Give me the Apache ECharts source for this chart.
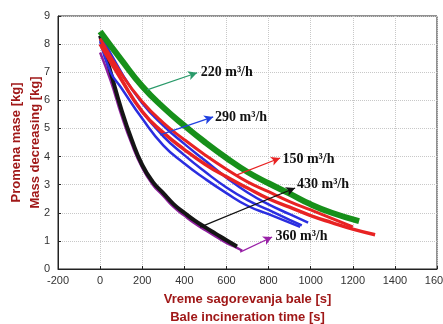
<!DOCTYPE html>
<html>
<head>
<meta charset="utf-8">
<script src="https://cdn.jsdelivr.net/npm/echarts@6/dist/echarts.min.js"></script>
<style>html,body{margin:0;padding:0;background:#fff;}#c{width:443px;height:324px;}</style>
</head>
<body>
<div id="c"></div>
<script>
// ---- data (time [s], mass [kg]) ----
const xTicks = [-200, 0, 200, 400, 600, 800, 1000, 1200, 1400, 1600];
const yTicks = [0, 1, 2, 3, 4, 5, 6, 7, 8, 9];

const green220 = [[0,8.45],[100,7.45],[200,6.5],[300,5.75],[400,5.1],[500,4.5],[600,3.95],[700,3.45],[800,3.05],[900,2.68],[1000,2.3],[1100,2.0],[1230,1.7]];
const red150a = [[0,8.2],[100,6.95],[200,5.95],[300,5.2],[400,4.6],[500,4.05],[600,3.55],[700,3.1],[800,2.75],[900,2.4],[1000,2.1],[1100,1.8],[1200,1.5]];
const red150b = [[0,8.0],[100,6.75],[200,5.6],[300,4.85],[400,4.25],[500,3.72],[600,3.28],[700,2.88],[800,2.5],[900,2.2],[1000,1.9],[1100,1.65],[1200,1.42],[1306,1.22]];
const blue290a = [[0,8.4],[100,7.0],[200,5.9],[300,5.1],[400,4.45],[500,3.85],[600,3.25],[700,2.72],[800,2.3],[900,1.95],[988,1.65]];
const blue290b = [[0,8.2],[100,6.75],[200,5.6],[300,4.72],[400,4.05],[500,3.45],[600,2.9],[700,2.45],[800,2.1],[900,1.75],[958,1.55]];
const blue290c = [[0,8.1],[50,7.0],[100,6.45],[200,5.35],[300,4.4],[400,3.75],[500,3.2],[600,2.7],[700,2.25],[800,1.95],[900,1.65],[950,1.5]];
const black430 = [[0,8.3],[50,7.0],[100,5.7],[150,4.6],[200,3.7],[250,3.1],[300,2.7],[350,2.3],[400,2.0],[450,1.72],[500,1.48],[550,1.25],[600,1.02],[650,0.8]];
const purple360 = [[0,7.7],[50,6.7],[100,5.5],[150,4.45],[200,3.6],[250,3.0],[300,2.6],[350,2.2],[400,1.9],[450,1.62],[500,1.38],[550,1.15],[600,0.93],[650,0.75],[675,0.65]];

// annotation labels: [text, arrow tail, arrow head, text anchor] in data units
const labels220 = ['220 m³/h', [223,6.37], [461,6.98], [478,6.98]];
const labels290 = ['290 m³/h', [285,4.77], [537,5.41], [546,5.41]];
const labels150 = ['150 m³/h', [650,3.35], [855,3.95], [866,3.9]];
const labels430 = ['430 m³/h', [475,1.49], [926,2.88], [935,3.02]];
const labels360 = ['360 m³/h', [665,0.6], [817,1.14], [833,1.17]];

const chart = echarts.init(document.getElementById('c'), null, {renderer:'canvas'});

function curve(name, data, color, width){
  return {name, type:'line', data, smooth:0.5, showSymbol:false, symbol:'none',
    lineStyle:{color, width}, itemStyle:{color}, z:2, animation:false};
}
function ann(lab, color){
  return {type:'line', data:[], silent:true, animation:false,
    markLine:{silent:true, animation:false, symbol:['none','arrow'], symbolSize:[7,9],
      lineStyle:{color, width:1.2, type:'solid'}, label:{show:false},
      data:[[{coord:lab[1]},{coord:lab[2]}]]},
    markPoint:{silent:true, animation:false, symbol:'circle', symbolSize:0,
      data:[{coord:lab[3], value:lab[0]}],
      label:{show:true, position:'right', distance:0, formatter:lab[0], color:'#111',
        fontFamily:'Liberation Serif', fontWeight:'bold', fontSize:14}}};
}

chart.setOption({
  animation:false,
  backgroundColor:'#fff',
  grid:{left:58, right:6, top:16, bottom:55, containLabel:false, outerBoundsMode:'none',
    show:true, borderColor:'#222', borderWidth:1},
  xAxis:{type:'value', min:xTicks[0], max:xTicks[xTicks.length-1], interval:200,
    axisLine:{show:true, onZero:false, lineStyle:{color:'#222'}}, axisTick:{show:true, inside:true, length:3, lineStyle:{color:'#222'}},
    axisLabel:{color:'#333', fontSize:11, fontFamily:'Liberation Sans', margin:6, formatter:v=>String(v)},
    splitLine:{show:true, lineStyle:{color:'#c8c8c8', type:'dotted'}},
    name:'Vreme sagorevanja bale [s]\nBale incineration time [s]', nameLocation:'middle', nameGap:21,
    nameTextStyle:{color:'#a01818', fontWeight:'bold', fontSize:13, fontFamily:'Liberation Sans', lineHeight:18}},
  yAxis:{type:'value', min:yTicks[0], max:yTicks[yTicks.length-1], interval:1,
    axisLine:{show:true, onZero:false, lineStyle:{color:'#222'}}, axisTick:{show:true, inside:true, length:3, lineStyle:{color:'#222'}},
    axisLabel:{color:'#333', fontSize:11, fontFamily:'Liberation Sans', margin:8, formatter:v=>String(v)},
    splitLine:{show:true, lineStyle:{color:'#c8c8c8', type:'dotted'}},
    name:'Promena mase [kg]\nMass decreasing [kg]', nameLocation:'middle', nameGap:13, nameRotate:90, nameMoveOverlap:false,
    nameTextStyle:{color:'#a01818', fontWeight:'bold', fontSize:13, fontFamily:'Liberation Sans', lineHeight:19}},
  series:[
    curve('360', purple360, '#8e1f9e', 2.5),
    curve('430', black430, '#151515', 4),
    curve('290a', blue290a, '#2b2ee0', 2.5),
    curve('290b', blue290b, '#2b2ee0', 2.5),
    curve('290c', blue290c, '#2b2ee0', 2.5),
    curve('150b', red150b, '#e82323', 3.5),
    curve('150a', red150a, '#e82323', 3),
    curve('220', green220, '#17901a', 6),
    ann(labels220, '#2a9a6a'),
    ann(labels290, '#2040e0'),
    ann(labels150, '#e82323'),
    ann(labels430, '#111111'),
    ann(labels360, '#9a22a8')
  ]
});
</script>
</body>
</html>
